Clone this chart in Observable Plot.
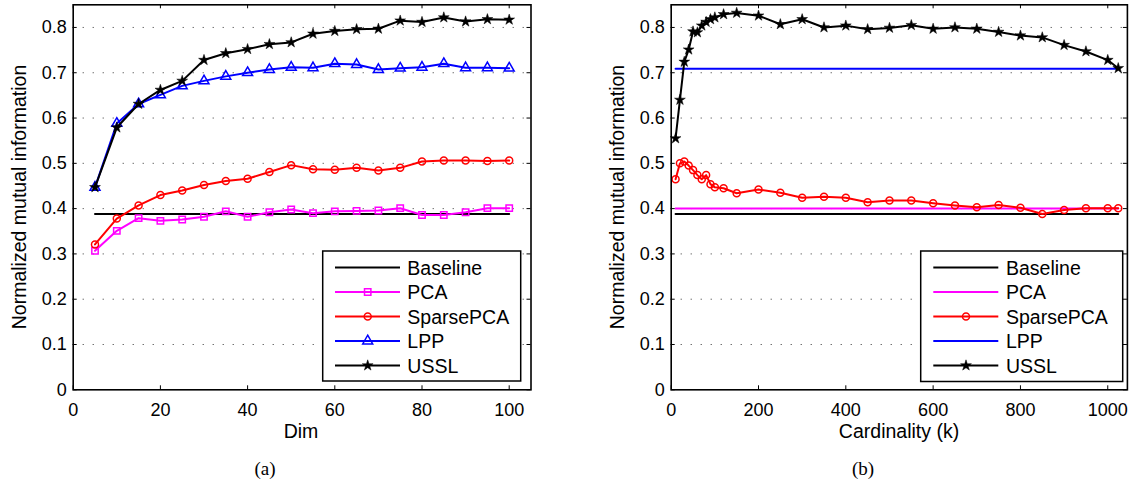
<!DOCTYPE html>
<html><head><meta charset="utf-8">
<script src="https://cdn.jsdelivr.net/npm/d3@7"></script>
<script src="https://cdn.jsdelivr.net/npm/@observablehq/plot@0.6"></script>
<style>
html,body{margin:0;padding:0;background:#fff;}
#wrap{position:relative;width:1133px;height:482px;overflow:hidden;font-family:"Liberation Sans",Arial,Helvetica,sans-serif;}
#wrap > div.panel{position:absolute;top:0;}
#overlay{position:absolute;left:0;top:0;}
</style></head><body><div id="wrap"></div>
<script>
// ---------- data: panel (a) ----------
const dimX = [5,10,15,20,25,30,35,40,45,50,55,60,65,70,75,80,85,90,95,100];
const pcaA = [0.307,0.351,0.379,0.373,0.376,0.382,0.394,0.382,0.392,0.398,0.390,0.394,0.395,0.396,0.401,0.386,0.386,0.392,0.401,0.401];
const sparseA = [0.321,0.378,0.407,0.430,0.440,0.452,0.461,0.466,0.481,0.496,0.487,0.486,0.490,0.484,0.490,0.504,0.506,0.506,0.505,0.506];
const lppA = [0.447,0.588,0.631,0.651,0.671,0.682,0.692,0.700,0.707,0.712,0.711,0.720,0.718,0.707,0.710,0.712,0.720,0.711,0.711,0.710];
const usslA = [0.447,0.579,0.631,0.662,0.682,0.728,0.743,0.752,0.763,0.767,0.786,0.792,0.796,0.797,0.815,0.812,0.822,0.813,0.818,0.817];
const baselineAX = [5,100];
const baselineAY = [0.388,0.388];

// ---------- data: panel (b) ----------
const cardX = [10,20,30,40,50,60,70,80,90,100,120,150,200,250,300,350,400,450,500,550,600,650,700,750,800,850,900,950,1000,1024];
const sparseB = [0.465,0.500,0.504,0.495,0.485,0.474,0.465,0.474,0.454,0.447,0.445,0.434,0.442,0.435,0.424,0.426,0.424,0.414,0.418,0.418,0.412,0.407,0.403,0.408,0.402,0.388,0.397,0.401,0.401,0.401];
const usslB = [0.555,0.640,0.724,0.751,0.791,0.789,0.804,0.812,0.818,0.822,0.829,0.832,0.826,0.807,0.818,0.800,0.804,0.796,0.799,0.805,0.797,0.800,0.797,0.790,0.782,0.778,0.761,0.747,0.728,0.710];
const flatBX = [10,1024];
const baselineBY = [0.388,0.388];
const pcaBY = [0.400,0.400];
const lppBY = [0.709,0.709];

// ---------- ticks / labels ----------
const yTicks = [0,0.1,0.2,0.3,0.4,0.5,0.6,0.7,0.8];
const yTickLabels = ["0","0.1","0.2","0.3","0.4","0.5","0.6","0.7","0.8"];
const gridY = [0.1,0.2,0.3,0.4,0.5,0.6,0.7,0.8];
const xTicksA = [0,20,40,60,80,100];
const xTickLabelsA = ["0","20","40","60","80","100"];
const xTicksB = [0,200,400,600,800,1000];
const xTickLabelsB = ["0","200","400","600","800","1000"];
const seriesNames = ["Baseline","PCA","SparsePCA","LPP","USSL"];
const seriesColors = ["#000000","#ff00ff","#ff0000","#0000ff","#000000"];

const rows = (xs, ys) => xs.map((x,i) => ({x, y: ys[i]}));

const H = 440, MT = 4.3, MB = 50.7;
const innerH = H - MT - MB;
const FONT = "'Liberation Sans', Arial, Helvetica, sans-serif";

function panel({width, marginLeft, marginRight, xDomain, xTicks, xTickLabels, dataMarks}) {
  const innerW = width - marginLeft - marginRight;
  const xLab = new Map(xTicks.map((t,i)=>[t, xTickLabels[i]]));
  const yLab = new Map(yTicks.map((t,i)=>[t, yTickLabels[i]]));
  return Plot.plot({
    width, height: H, marginLeft, marginRight, marginTop: MT, marginBottom: MB,
    style: {fontFamily: FONT, fontSize: "18px", background: "white", color: "black", overflow: "visible"},
    x: {domain: xDomain, label: null},
    y: {domain: [0, 0.85], label: null},
    marks: [
      Plot.ruleY(gridY, {stroke: "#333", strokeWidth: 1, strokeDasharray: "1,9"}),
      ...dataMarks,
      Plot.ruleX(xTicks, {insetTop: innerH - 4, stroke: "black", strokeWidth: 1}),
      Plot.ruleX(xTicks, {insetBottom: innerH - 4, stroke: "black", strokeWidth: 1}),
      Plot.ruleY(yTicks, {insetLeft: innerW - 4, stroke: "black", strokeWidth: 1}),
      Plot.ruleY(yTicks, {insetRight: innerW - 4, stroke: "black", strokeWidth: 1}),
      Plot.axisX({ticks: xTicks, tickFormat: d => xLab.get(d), tickSize: 0, tickPadding: 13, fontSize: 18, label: null}),
      Plot.axisY({ticks: yTicks, tickFormat: d => yLab.get(d), tickSize: 0, tickPadding: 6.5, fontSize: 18, label: null}),
      Plot.frame({stroke: "black", strokeWidth: 1.6})
    ]
  });
}

const LW = 2;
const marksA = [
  Plot.line(rows(baselineAX, baselineAY), {x: "x", y: "y", stroke: seriesColors[0], strokeWidth: LW}),
  Plot.line(rows(dimX, pcaA), {x: "x", y: "y", stroke: seriesColors[1], strokeWidth: LW}),
  Plot.dot(rows(dimX, pcaA), {x: "x", y: "y", symbol: "square", r: 3.6, stroke: seriesColors[1], strokeWidth: 1.5, fill: "none"}),
  Plot.line(rows(dimX, sparseA), {x: "x", y: "y", stroke: seriesColors[2], strokeWidth: LW}),
  Plot.dot(rows(dimX, sparseA), {x: "x", y: "y", symbol: "circle", r: 3.5, stroke: seriesColors[2], strokeWidth: 1.5, fill: "none"}),
  Plot.line(rows(dimX, lppA), {x: "x", y: "y", stroke: seriesColors[3], strokeWidth: LW}),
  Plot.dot(rows(dimX, lppA), {x: "x", y: "y", symbol: "triangle", r: 3.7, stroke: seriesColors[3], strokeWidth: 1.5, fill: "none"}),
  Plot.line(rows(dimX, usslA), {x: "x", y: "y", stroke: seriesColors[4], strokeWidth: LW}),
  Plot.dot(rows(dimX, usslA), {x: "x", y: "y", symbol: "star", r: 3.4, fill: seriesColors[4], stroke: seriesColors[4], strokeWidth: 0.5})
];
const marksB = [
  Plot.line(rows(flatBX, baselineBY), {x: "x", y: "y", stroke: seriesColors[0], strokeWidth: LW}),
  Plot.line(rows(flatBX, pcaBY), {x: "x", y: "y", stroke: seriesColors[1], strokeWidth: LW}),
  Plot.line(rows(cardX, sparseB), {x: "x", y: "y", stroke: seriesColors[2], strokeWidth: LW}),
  Plot.dot(rows(cardX, sparseB), {x: "x", y: "y", symbol: "circle", r: 3.5, stroke: seriesColors[2], strokeWidth: 1.5, fill: "none"}),
  Plot.line(rows(flatBX, lppBY), {x: "x", y: "y", stroke: seriesColors[3], strokeWidth: LW}),
  Plot.line(rows(cardX, usslB), {x: "x", y: "y", stroke: seriesColors[4], strokeWidth: LW}),
  Plot.dot(rows(cardX, usslB), {x: "x", y: "y", symbol: "star", r: 3.4, fill: seriesColors[4], stroke: seriesColors[4], strokeWidth: 0.5})
];

const wrap = document.getElementById("wrap");
const pa = document.createElement("div"); pa.className = "panel"; pa.style.left = "0px";
pa.appendChild(panel({width: 566, marginLeft: 72.7, marginRight: 35.5, xDomain: [0,105], xTicks: xTicksA, xTickLabels: xTickLabelsA, dataMarks: marksA}));
const pb = document.createElement("div"); pb.className = "panel"; pb.style.left = "566px";
pb.appendChild(panel({width: 567, marginLeft: 104.7, marginRight: 6.1, xDomain: [0,1045], xTicks: xTicksB, xTickLabels: xTickLabelsB, dataMarks: marksB}));
wrap.appendChild(pa); wrap.appendChild(pb);

// ---------- overlay: titles, captions, legends ----------
const svg = d3.select(wrap).append("svg").attr("id","overlay").attr("width",1133).attr("height",482)
  .style("font-family", FONT);
function txt(x, y, s, opts = {}) {
  const t = svg.append("text").attr("x", x).attr("y", y).text(s)
    .attr("font-size", opts.size || 19.5).attr("text-anchor", opts.anchor || "middle").attr("fill","black");
  if (opts.rotate) t.attr("transform", `rotate(-90 ${x} ${y})`);
  if (opts.family) t.attr("font-family", opts.family);
  return t;
}
txt(26, 197, "Normalized mutual information", {rotate: true});
txt(624, 197, "Normalized mutual information", {rotate: true});
txt(301, 438, "Dim");
txt(899, 438, "Cardinality (k)");
txt(265, 474.5, "(a)", {family: "'Liberation Serif','Times New Roman',serif", size: 19});
txt(863, 474.5, "(b)", {family: "'Liberation Serif','Times New Roman',serif", size: 19});

function legend(bx, by, bw, bh, lx0, lx1, mx, tx, markers) {
  svg.append("rect").attr("x", bx).attr("y", by).attr("width", bw).attr("height", bh)
    .attr("fill","white").attr("stroke","black").attr("stroke-width",1.5);
  seriesNames.forEach((name, i) => {
    const cy = 267.5 + i * 24.5;
    svg.append("line").attr("x1", lx0).attr("x2", lx1).attr("y1", cy).attr("y2", cy)
      .attr("stroke", seriesColors[i]).attr("stroke-width", LW);
    const m = markers[i];
    if (m) {
      const sym = {square: d3.symbolSquare, circle: d3.symbolCircle, triangle: d3.symbolTriangle, star: d3.symbolStar}[m.s];
      svg.append("path").attr("d", d3.symbol(sym, m.r * m.r * Math.PI)())
        .attr("transform", `translate(${mx},${cy})`)
        .attr("fill", m.fill ? seriesColors[i] : "none").attr("stroke", seriesColors[i])
        .attr("stroke-width", m.fill ? 0.5 : 1.5);
    }
    txt(tx, cy + 7, name, {anchor: "start"});
  });
}
legend(322.7, 251, 198, 130, 335, 400, 367.7, 407.3,
  [null, {s:"square", r:3.6}, {s:"circle", r:3.5}, {s:"triangle", r:3.7}, {s:"star", r:3.4, fill:true}]);
legend(920.7, 251, 202, 130.5, 933.3, 998.3, 966, 1006,
  [null, null, {s:"circle", r:3.5}, null, {s:"star", r:3.4, fill:true}]);
</script>
</body></html>
